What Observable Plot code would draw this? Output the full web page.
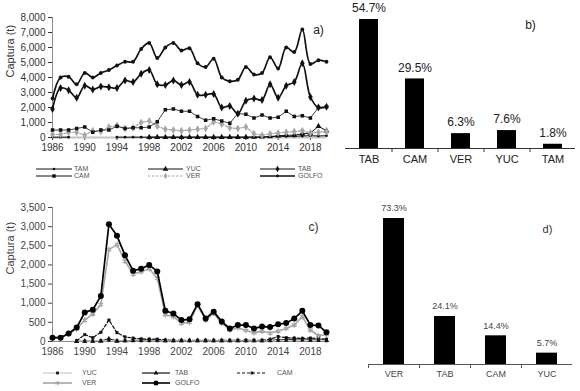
<!DOCTYPE html>
<html><head><meta charset="utf-8">
<script src="https://cdn.jsdelivr.net/npm/d3@7"></script>
<script src="https://cdn.jsdelivr.net/npm/@observablehq/plot@0.6"></script>
<style>
html,body{margin:0;padding:0;background:#fff;}
#root{position:relative;width:580px;height:391px;overflow:hidden;font-family:"Liberation Sans",Arial,sans-serif;}
#root svg{position:absolute;overflow:visible;}
</style></head><body><div id="root"></div>
<script>
// ---------- DATA ----------
const years = [1986,1987,1988,1989,1990,1991,1992,1993,1994,1995,1996,1997,1998,1999,2000,2001,2002,2003,2004,2005,2006,2007,2008,2009,2010,2011,2012,2013,2014,2015,2016,2017,2018,2019,2020];
const yearTicks = [1986,1990,1994,1998,2002,2006,2010,2014,2018];

// Panel a (t)
const golfoA = [2600,4000,4050,3550,4300,4000,4300,4500,4800,5050,5050,5900,6300,5300,6000,6300,5800,5950,4950,4700,5250,4000,3750,3850,4700,4200,4300,5350,4600,6000,5700,7200,4900,5150,5050];
const tabA   = [1900,3300,3150,2650,3450,3200,3400,3350,3300,3800,3700,4250,4500,3550,3500,3800,3500,3700,2850,2850,2900,2000,2100,1580,2450,2600,2500,3550,2650,3450,3700,4950,2700,2000,2050];
const camA   = [500,500,500,600,700,350,500,500,750,600,650,650,700,1050,1850,1900,1750,1750,1400,1150,1250,1100,950,1600,1550,1300,1500,1300,1350,1750,1400,1450,1300,2000,2050];
const verA   = [200,200,350,350,150,450,400,700,800,600,650,1000,1100,750,550,500,450,500,550,600,1050,900,650,600,700,250,150,250,300,350,400,450,300,350,400];
const yucA   = [null,null,null,null,null,null,null,null,null,null,null,null,20,20,20,20,20,20,20,20,20,20,20,20,20,30,40,60,120,150,150,250,300,750,450];
const tamA   = [20,20,20,null,null,null,null,null,20,20,20,20,20,20,20,20,20,20,20,20,20,20,20,20,20,20,20,50,80,70,90,100,120,100,120];
const yTicksA = [0,1000,2000,3000,4000,5000,6000,7000,8000];

// Panel b (%)
const catsB = ["TAB","CAM","VER","YUC","TAM"];
const pctB  = [54.7,29.5,6.3,7.6,1.8];

// Panel c (t)
const golfoC = [100,100,210,365,760,830,1190,3060,2760,2250,1850,1900,2000,1830,800,730,560,580,975,600,780,520,340,430,430,340,390,380,450,480,600,800,430,420,240];
const verC   = [100,100,200,330,560,720,970,2400,2530,2100,1760,1820,1900,1650,700,650,480,500,950,560,740,480,300,360,290,230,270,220,270,340,430,650,300,150,180];
const camC   = [null,null,null,20,180,100,240,560,230,120,90,70,60,60,40,30,30,30,30,30,30,30,30,30,30,30,30,60,130,100,90,80,90,80,60];
const tabC   = [null,null,null,0,10,5,10,70,10,20,30,30,40,30,20,20,20,20,20,20,20,20,20,20,20,20,20,30,40,50,60,60,40,40,30];
const yucC   = [null,null,null,10,10,10,20,30,20,20,20,20,20,20,20,20,20,20,20,20,20,20,20,20,20,20,20,20,30,30,30,40,30,30,20];
const yTicksC = [0,500,1000,1500,2000,2500,3000,3500];

// Panel d (%)
const catsD = ["VER","TAB","CAM","YUC"];
const pctD  = [73.3,24.1,14.4,5.7];

// ---------- HELPERS ----------
const FONT = '"Liberation Sans", Arial, sans-serif';
const root = document.getElementById("root");
const rows = vals => years.map((year, i) => ({year, value: vals[i]}));
const defd = vals => rows(vals).filter(d => d.value != null);
function place(svg, left, top) { svg.style.left = left + "px"; svg.style.top = top + "px"; root.appendChild(svg); }

// ---------- PANEL A ----------
const A = Plot.plot({
  width: 340, height: 165, marginLeft: 52, marginRight: 14, marginTop: 17, marginBottom: 28,
  style: {fontFamily: FONT, fontSize: "10px", color: "#333", background: "transparent"},
  x: {domain: [1986, 2020], ticks: yearTicks, tickFormat: d => String(d), tickSize: 3, tickPadding: 3, label: null},
  y: {domain: [0, 8000], ticks: yTicksA, tickFormat: d3.format(","), tickSize: 4, tickPadding: 3, label: null},
  marks: [
    Plot.ruleX([1986], {stroke: "#8c8c8c"}),
    Plot.ruleY([0], {stroke: "#c4c4c4", strokeWidth: 2}),
    Plot.line(rows(tamA), {x: "year", y: "value", stroke: "#111", strokeWidth: 1}),
    Plot.dot(defd(tamA), {x: "year", y: "value", r: 1.4, fill: "#111", symbol: "circle"}),
    Plot.line(rows(yucA), {x: "year", y: "value", stroke: "#111", strokeWidth: 1}),
    Plot.dot(defd(yucA), {x: "year", y: "value", r: 2.2, fill: "#111", symbol: "triangle"}),
    Plot.line(rows(verA), {x: "year", y: "value", stroke: "#a6a6a6", strokeWidth: 1.2, strokeDasharray: "2.5,1.5"}),
    Plot.dot(defd(verA), {x: "year", y: "value", r: 2.4, fill: "#a6a6a6", symbol: "diamond"}),
    Plot.line(rows(camA), {x: "year", y: "value", stroke: "#111", strokeWidth: 0.8}),
    Plot.dot(defd(camA), {x: "year", y: "value", r: 2, fill: "#111", symbol: "square"}),
    Plot.line(rows(tabA), {x: "year", y: "value", stroke: "#111", strokeWidth: 1.7, curve: "catmull-rom"}),
    Plot.dot(defd(tabA), {x: "year", y: "value", r: 2.4, fill: "#111", symbol: "diamond"}),
    Plot.line(rows(golfoA), {x: "year", y: "value", stroke: "#111", strokeWidth: 1.7, curve: "catmull-rom"}),
    Plot.dot(defd(golfoA), {x: "year", y: "value", r: 1.9, fill: "#111", symbol: "circle"}),
    Plot.text(["Captura (t)"], {frameAnchor: "left", rotate: -90, dx: -42, fontSize: 11, fill: "#333"}),
    Plot.text(["a)"], {frameAnchor: "top-right", textAnchor: "middle", dx: -8, dy: 8, fontSize: 12, fill: "#222"})
  ]
});
place(A, 0, 0);

// ---------- PANEL B ----------
const dataB = catsB.map((c, i) => ({c, v: pctB[i]}));
const B = Plot.plot({
  width: 240, height: 170, marginLeft: 5, marginRight: 5, marginTop: 19, marginBottom: 22,
  style: {fontFamily: FONT, fontSize: "11px", color: "#222", background: "transparent"},
  x: {domain: catsB, paddingInner: 0.59, paddingOuter: 0.295, tickSize: 0, tickPadding: 7, label: null},
  y: {domain: [0, 54.7], axis: null},
  marks: [
    Plot.barY(dataB, {x: "c", y: "v", fill: "#000"}),
    Plot.text(dataB, {x: "c", y: "v", text: d => d.v.toFixed(1) + "%", dy: -11, fontSize: 12, fill: "#222"}),
    Plot.ruleY([0], {stroke: "#333", strokeWidth: 1}),
    Plot.ruleX(catsB.slice(1), {x: d => d, y1: 0, y2: 0, dx: -23, insetBottom: -4, stroke: "#333"}),
    Plot.text(["b)"], {frameAnchor: "top-right", textAnchor: "middle", dx: -45, dy: 1, fontSize: 12, fill: "#222"})
  ]
});
place(B, 340, 0);

// ---------- PANEL C ----------
const C = Plot.plot({
  width: 340, height: 175, marginLeft: 52, marginRight: 14, marginTop: 17, marginBottom: 24,
  style: {fontFamily: FONT, fontSize: "10px", color: "#444", background: "transparent"},
  x: {domain: [1986, 2020], ticks: yearTicks, tickFormat: d => String(d), tickSize: 0, tickPadding: 6, label: null},
  y: {domain: [0, 3500], ticks: yTicksC, tickFormat: d3.format(","), tickSize: 4, tickPadding: 3, label: null},
  marks: [
    Plot.ruleX([1986], {stroke: "#8c8c8c"}),
    Plot.ruleY([0], {stroke: "#8c8c8c", strokeWidth: 1}),
    Plot.line(rows(camC), {x: "year", y: "value", stroke: "#111", strokeWidth: 1.2, strokeDasharray: "3,2"}),
    Plot.dot(defd(camC), {x: "year", y: "value", r: 1.7, fill: "#111", symbol: "square"}),
    Plot.line(rows(tabC), {x: "year", y: "value", stroke: "#111", strokeWidth: 1.2}),
    Plot.dot(defd(tabC), {x: "year", y: "value", r: 2, fill: "#111", symbol: "triangle"}),
    Plot.line(rows(yucC), {x: "year", y: "value", stroke: "#c8c8c8", strokeWidth: 1.2}),
    Plot.dot(defd(yucC), {x: "year", y: "value", r: 1.7, fill: "#111", symbol: "square"}),
    Plot.line(rows(verC), {x: "year", y: "value", stroke: "#a6a6a6", strokeWidth: 1.6}),
    Plot.dot(defd(verC), {x: "year", y: "value", r: 2.6, stroke: "#a6a6a6", strokeWidth: 1.3, symbol: "asterisk"}),
    Plot.line(rows(golfoC), {x: "year", y: "value", stroke: "#000", strokeWidth: 1.7}),
    Plot.dot(defd(golfoC), {x: "year", y: "value", r: 3, fill: "#000", symbol: "circle"}),
    Plot.text(["Captura (t)"], {frameAnchor: "left", rotate: -90, dx: -42, fontSize: 11, fill: "#444"}),
    Plot.text(["c)"], {frameAnchor: "top-right", textAnchor: "middle", dx: -13, dy: 15, fontSize: 12, fill: "#333"})
  ]
});
place(C, 0, 190);

// ---------- PANEL D ----------
const dataD = catsD.map((c, i) => ({c, v: pctD[i]}));
const D = Plot.plot({
  width: 240, height: 201, marginLeft: 28, marginRight: 8, marginTop: 28, marginBottom: 27,
  style: {fontFamily: FONT, fontSize: "9px", color: "#444", background: "transparent"},
  x: {domain: catsD, paddingInner: 0.59, paddingOuter: 0.295, tickSize: 0, tickPadding: 6, label: null},
  y: {domain: [0, 73.3], axis: null},
  marks: [
    Plot.barY(dataD, {x: "c", y: "v", fill: "#000"}),
    Plot.text(dataD, {x: "c", y: "v", text: d => d.v.toFixed(1) + "%", dy: -10, fontSize: 9, fill: "#444"}),
    Plot.ruleY([0], {stroke: "#555", strokeWidth: 1}),
    Plot.ruleX(catsD, {x: d => d, y1: 0, y2: 0, dx: -25.5, insetBottom: -4, stroke: "#555"}),
    Plot.text(["d)"], {frameAnchor: "top-right", textAnchor: "middle", dx: -25, dy: 7, fontSize: 11, fill: "#333"})
  ]
});
place(D, 340, 190);

// ---------- LEGENDS ----------
function legend(left, top, w, h, items, fontSize, color) {
  const svg = d3.create("svg").attr("width", w).attr("height", h)
    .style("left", left + "px").style("top", top + "px");
  for (const it of items) {
    const g = svg.append("g");
    g.append("line").attr("x1", it.x1 - left).attr("x2", it.x2 - left)
      .attr("y1", it.y - top).attr("y2", it.y - top)
      .attr("stroke", it.stroke).attr("stroke-width", it.sw)
      .attr("stroke-dasharray", it.dash || null);
    const sym = d3.symbol(it.sym, it.size)();
    g.append("path").attr("d", sym)
      .attr("transform", `translate(${(it.x1 + it.x2) / 2 - left},${it.y - top})`)
      .attr("fill", it.symStroke ? "none" : it.fill)
      .attr("stroke", it.symStroke ? it.fill : "none");
    g.append("text").attr("x", it.lx - left).attr("y", it.y - top).attr("dy", "0.35em")
      .attr("font-family", FONT).attr("font-size", fontSize).attr("fill", color).text(it.label);
  }
  root.appendChild(svg.node());
}
legend(0, 160, 340, 26, [
  {label: "TAM", x1: 36, x2: 72, y: 169, lx: 74, stroke: "#111", sw: 1, sym: d3.symbolCircle, size: 5, fill: "#111"},
  {label: "CAM", x1: 36, x2: 72, y: 176, lx: 74, stroke: "#111", sw: 1, sym: d3.symbolSquare, size: 12, fill: "#111"},
  {label: "YUC", x1: 148, x2: 183, y: 169, lx: 186, stroke: "#111", sw: 1, sym: d3.symbolTriangle, size: 14, fill: "#111"},
  {label: "VER", x1: 148, x2: 183, y: 176, lx: 186, stroke: "#a6a6a6", sw: 1, dash: "2.5,1.5", sym: d3.symbolDiamond, size: 12, fill: "#a6a6a6"},
  {label: "TAB", x1: 260, x2: 295, y: 169, lx: 298, stroke: "#111", sw: 1.2, sym: d3.symbolDiamond, size: 12, fill: "#111"},
  {label: "GOLFO", x1: 260, x2: 295, y: 176, lx: 298, stroke: "#111", sw: 1.4, sym: d3.symbolCircle, size: 6, fill: "#111"}
], 7, "#555");
legend(0, 365, 340, 26, [
  {label: "YUC", x1: 43, x2: 72, y: 373, lx: 82, stroke: "#c8c8c8", sw: 1.2, sym: d3.symbolSquare, size: 8, fill: "#111"},
  {label: "VER", x1: 43, x2: 72, y: 383, lx: 82, stroke: "#a6a6a6", sw: 1.6, sym: d3.symbolAsterisk, size: 14, fill: "#a6a6a6", symStroke: true},
  {label: "TAB", x1: 142, x2: 170, y: 373, lx: 175, stroke: "#111", sw: 1.2, sym: d3.symbolTriangle, size: 10, fill: "#111"},
  {label: "GOLFO", x1: 142, x2: 170, y: 383, lx: 175, stroke: "#000", sw: 1.6, sym: d3.symbolCircle, size: 20, fill: "#000"},
  {label: "CAM", x1: 237, x2: 267, y: 373, lx: 277, stroke: "#111", sw: 1.2, dash: "3,2", sym: d3.symbolSquare, size: 8, fill: "#111"}
], 7, "#555");
</script>
</body></html>
